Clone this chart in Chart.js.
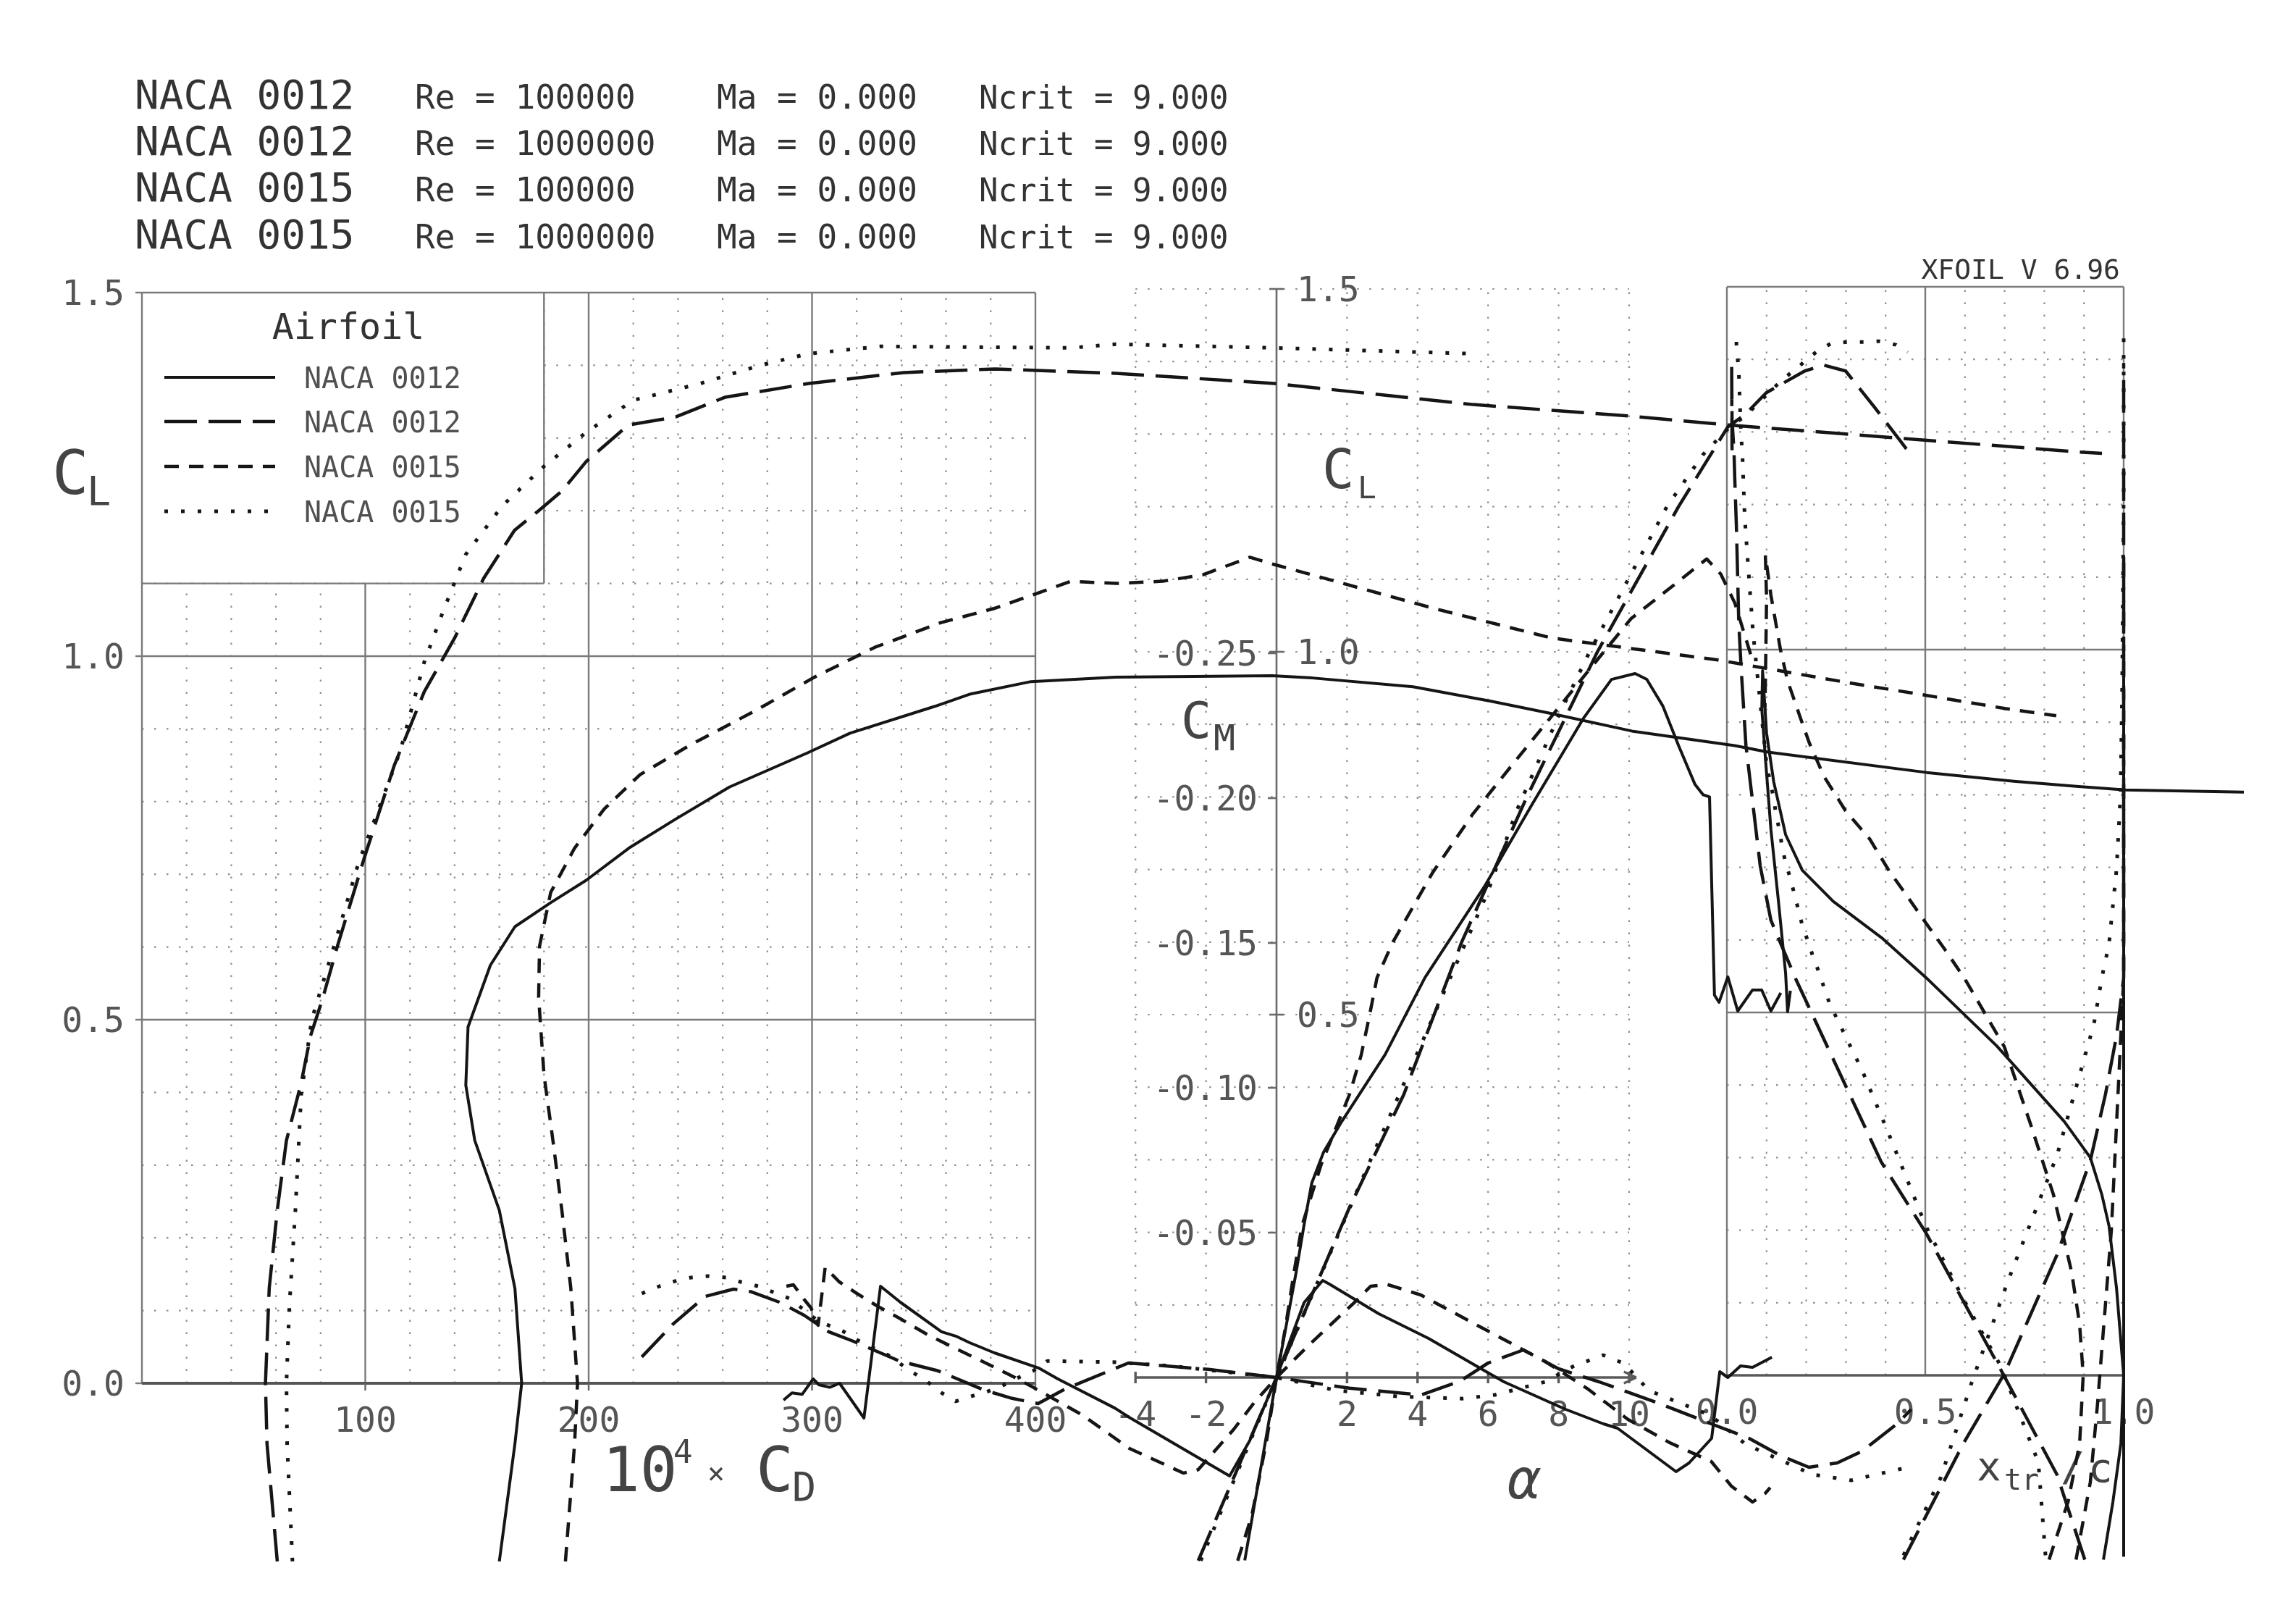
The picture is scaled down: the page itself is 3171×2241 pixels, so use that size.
<!DOCTYPE html>
<html>
<head>
<meta charset="utf-8">
<title>XFOIL polars - NACA 0012 / 0015</title>
<script src="https://cdn.jsdelivr.net/npm/chart.js@4.4.1/dist/chart.umd.min.js"></script>
<style>
  html, body { margin: 0; padding: 0; background: #fff; overflow: hidden; }
  canvas { display: block; }
</style>
</head>
<body>
<canvas id="polar" width="3171" height="2241"></canvas>
<script>
// header / legend text
const polarNames = ['NACA 0012', 'NACA 0012', 'NACA 0015', 'NACA 0015'];
const reynolds = ['100000', '1000000', '100000', '1000000'];
const machs = ['0.000', '0.000', '0.000', '0.000'];
const ncrits = ['9.000', '9.000', '9.000', '9.000'];

// tick labels
const cdTicks = [100, 200, 300, 400];
const clTicks = [0.0, 0.5, 1.0, 1.5];
const alphaTicks = [-4, -2, 2, 4, 6, 8, 10];
const cmTicks = [-0.05, -0.10, -0.15, -0.20, -0.25];
const xtrTicks = [0.0, 0.5, 1.0];

// ---- NACA 0012, Re 100000 (solid) ----
const dragA = [[160,-0.245],[167,-0.083],[170,0],[167,0.13],[160,0.238],[149,0.334],[145,0.41],[146,0.49],[156,0.575],[167,0.628],[183,0.661],[199,0.692],[218,0.736],[239,0.776],[263,0.82],[298,0.867],[317,0.894],[355,0.931],[371,0.948],[398,0.965],[436,0.971],[506,0.973],[524,0.97],[569,0.958],[604,0.938],[631,0.921],[667,0.897],[713,0.877],[728,0.868],[799,0.84],[838,0.828],[866,0.821],[888,0.816],[941,0.813]];
const liftA = [[-0.9,-0.252],[0,0],[0.55,0.143],[0.78,0.21],[1.0,0.268],[1.33,0.31],[1.84,0.352],[3.08,0.445],[4.21,0.551],[5.89,0.676],[7.25,0.79],[8.7,0.908],[9.5,0.962],[10.17,0.97],[10.5,0.962],[10.96,0.925],[11.4,0.871],[11.87,0.817],[12.1,0.803],[12.28,0.8],[12.42,0.527],[12.55,0.517],[12.8,0.552],[13.08,0.505],[13.5,0.534],[13.76,0.534],[14.02,0.505],[14.3,0.53]];
const momentA = [[-13.98,0.0078],[-13.74,0.0053],[-13.45,0.0058],[-13.14,0.0005],[-12.98,0.0025],[-12.67,0.0034],[-12.39,0.002],[-11.7,0.014],[-11.23,-0.0315],[-10.67,-0.026],[-9.5,-0.0158],[-9.1,-0.0143],[-8.7,-0.012],[-8.0,-0.0085],[-6.75,-0.0033],[-6.2,0.0005],[-4.58,0.0106],[-4.17,0.0138],[-1.33,0.034],[-0.76,0.0218],[0,0],[0.78,-0.0258],[1.31,-0.0335],[1.49,-0.0323],[2.9,-0.022],[4.31,-0.0135],[5.85,-0.0027],[6.45,0.0015],[8.2,0.011],[9.27,0.016],[9.67,0.0175],[11.33,0.0325],[11.7,0.0295],[12.34,0.021],[12.57,-0.002],[12.8,0],[13.16,-0.004],[13.5,-0.0035],[14.05,-0.007]];
const xtrTopA = [[1.0,-0.25],[1.0,0.0],[0.982,0.12],[0.963,0.206],[0.945,0.249],[0.916,0.3],[0.85,0.35],[0.68,0.454],[0.502,0.548],[0.39,0.603],[0.268,0.653],[0.19,0.696],[0.148,0.745],[0.118,0.818],[0.1,0.885],[0.09,0.971],[0.088,0.918],[0.097,0.851],[0.111,0.752],[0.13,0.653],[0.148,0.554],[0.153,0.501],[0.16,0.53]];
const xtrBotA = [[0.949,-0.254],[0.973,-0.174],[0.993,-0.094],[1.0,0.0],[1.0,0.973]];

// ---- NACA 0012, Re 1000000 (long dash) ----
const dragB = [[60.6,-0.245],[56,-0.083],[55.3,0],[57,0.131],[60.6,0.238],[64.7,0.334],[71.3,0.413],[75.5,0.478],[81,0.53],[87.5,0.601],[99.5,0.722],[113,0.85],[126.4,0.951],[140,1.025],[153,1.107],[166.8,1.173],[177.6,1.2],[188,1.227],[199,1.268],[217.8,1.318],[239,1.329],[261,1.356],[298.5,1.375],[341,1.39],[382,1.395],[436,1.389],[507,1.375],[596,1.346],[667,1.33],[710,1.318],[866,1.281],[877.5,1.279]];
const liftB = [[-2.22,-0.2525],[0,0],[2.07,0.2345],[3.61,0.39],[5.26,0.601],[7.1,0.8],[9.1,1.0],[11.4,1.2],[12.8,1.31],[13.29,1.327],[13.89,1.357],[14.98,1.387],[15.52,1.395],[16.14,1.387],[16.96,1.337],[17.7,1.29],[17.95,1.274]];
const momentB = [[-18.0,-0.0071],[-17.1,-0.0186],[-16.2,-0.028],[-15.4,-0.0305],[-14.9,-0.0296],[-14.1,-0.026],[-13.4,-0.0215],[-12.7,-0.0158],[-12.0,-0.0125],[-10.7,-0.0057],[-9.6,-0.0023],[-8.3,0.0043],[-7.5,0.0072],[-6.76,0.009],[-6.0,0.004],[-4.2,-0.005],[-1.93,-0.0028],[0,0],[2.07,0.0037],[4.1,0.006],[5.2,0.0013],[6.0,-0.005],[7.0,-0.0095],[8.0,-0.003],[9.15,0.0015],[10.8,0.0087],[12.33,0.016],[13.4,0.021],[14.3,0.027],[15.1,0.031],[15.9,0.0295],[16.6,0.0255],[17.6,0.016],[18.0,0.011]];
const xtrTopB = [[0.902,-0.254],[0.832,-0.137],[0.69,0.008],[0.502,0.196],[0.389,0.294],[0.172,0.548],[0.111,0.627],[0.084,0.702],[0.066,0.785],[0.048,0.868],[0.036,0.974],[0.03,1.036],[0.027,1.103],[0.024,1.169],[0.02,1.234],[0.018,1.272],[0.013,1.317],[0.012,1.393],[0.013,1.274]];
const xtrBotB = [[0.445,-0.254],[0.596,-0.094],[0.7,0.003],[0.832,0.166],[0.916,0.296],[0.954,0.387],[0.982,0.468],[1.0,0.548],[1.0,1.395]];

// ---- NACA 0015, Re 100000 (short dash) ----
const dragC = [[189.6,-0.245],[193.7,-0.083],[195,0],[192,0.131],[188,0.238],[184,0.334],[180,0.424],[177.6,0.531],[178,0.601],[183,0.675],[193.7,0.736],[207,0.79],[223,0.837],[245,0.877],[274,0.924],[301,0.971],[328,1.012],[357.5,1.046],[382,1.066],[416,1.103],[436,1.1],[457,1.103],[475,1.112],[496,1.136],[507,1.126],[578,1.066],[631,1.025],[705,0.995],[763,0.964],[799,0.946],[834,0.928],[857,0.918]];
const liftC = [[-1.1,-0.2525],[-0.7,-0.19],[-0.28,-0.087],[0,0],[0.25,0.068],[0.49,0.143],[0.72,0.209],[1.27,0.294],[1.72,0.348],[2.07,0.39],[2.4,0.444],[2.63,0.497],[2.85,0.551],[3.3,0.6],[4.43,0.696],[5.56,0.776],[6.68,0.844],[7.8,0.911],[8.93,0.979],[10.06,1.046],[11.4,1.097],[12.2,1.128],[12.6,1.107],[13.0,1.067],[13.5,0.988]];
const momentC = [[-13.9,-0.0315],[-13.7,-0.032],[-13.4,-0.027],[-13.2,-0.024],[-13.0,-0.018],[-12.8,-0.038],[-12.4,-0.033],[-11.9,-0.029],[-11.3,-0.0245],[-10.7,-0.0205],[-9.9,-0.0148],[-9.1,-0.01],[-8.3,-0.0053],[-7.5,-0.0005],[-6.9,0.0034],[-5.5,0.013],[-4.17,0.0245],[-2.64,0.033],[-2.22,0.0318],[-1.22,0.018],[-0.64,0.0088],[0,0],[0.9,-0.011],[2.2,-0.0258],[2.67,-0.0315],[3.14,-0.0321],[4.09,-0.0285],[5.85,-0.017],[7.62,-0.0055],[8.8,0.0037],[9.97,0.0145],[11.15,0.0225],[12.33,0.029],[12.9,0.0375],[13.5,0.043],[13.86,0.04],[14.0,0.038]];
const xtrTopC = [[0.812,-0.254],[0.86,-0.174],[0.889,-0.094],[0.898,0.0],[0.889,0.07],[0.869,0.142],[0.823,0.249],[0.766,0.345],[0.699,0.453],[0.6,0.546],[0.553,0.584],[0.498,0.626],[0.456,0.659],[0.409,0.695],[0.36,0.739],[0.299,0.778],[0.245,0.825],[0.208,0.871],[0.184,0.908],[0.153,0.957],[0.135,1.0],[0.111,1.075],[0.097,1.13],[0.1,1.07],[0.098,0.99],[0.096,0.92]];
const xtrBotC = [[0.88,-0.254],[0.916,-0.147],[0.934,-0.04],[0.969,0.2],[1.0,0.548],[1.0,1.128]];

// ---- NACA 0015, Re 1000000 (dotted) ----
const dragD = [[67.4,-0.245],[65,-0.083],[64.7,0],[66,0.105],[68.7,0.238],[71.3,0.397],[76,0.5],[86,0.601],[97,0.716],[107.6,0.803],[115.7,0.87],[126.4,0.992],[134.5,1.059],[145,1.14],[161.4,1.207],[180,1.261],[199,1.308],[220,1.352],[250,1.375],[276.8,1.4],[298.5,1.416],[330.6,1.426],[416,1.424],[436,1.429],[507,1.424],[595,1.416]];
const liftD = [[-2.15,-0.2525],[0,0],[2.4,0.27],[4.83,0.54],[6.0,0.67],[6.8,0.78],[8.03,0.915],[8.87,0.999],[11.07,1.2],[12.1,1.272],[12.77,1.306],[13.29,1.325],[14.3,1.373],[14.98,1.4],[15.3,1.413],[15.73,1.425],[16.2,1.427],[16.68,1.427],[17.08,1.428],[17.57,1.423],[17.9,1.413]];
const momentD = [[-18,-0.029],[-17.5,-0.0315],[-17.0,-0.0335],[-16.6,-0.0345],[-16.1,-0.035],[-15.6,-0.0345],[-15.2,-0.033],[-14.7,-0.0315],[-14.3,-0.0296],[-13.8,-0.0272],[-13.0,-0.0195],[-12.3,-0.016],[-11.9,-0.013],[-11.0,-0.0076],[-10.4,-0.0024],[-9.9,0.0015],[-9.5,0.0053],[-9.1,0.0082],[-8.6,0.0063],[-8.3,0.0053],[-7.86,0.0034],[-7.4,0.0005],[-6.9,-0.0023],[-6.5,-0.0057],[-4.64,-0.0053],[-3.0,-0.004],[0,0],[1.72,0.0045],[3.5,0.0066],[5.26,0.0073],[6.2,0.006],[7.62,0.0015],[8.44,-0.004],[9.27,-0.0077],[9.86,-0.0048],[10.56,0.0045],[12.3,0.013],[13.3,0.023],[14.2,0.028],[15.2,0.0335],[16.3,0.0355],[17.9,0.031]];
const xtrTopD = [[0.803,-0.248],[0.785,-0.12],[0.69,0.013],[0.597,0.104],[0.502,0.205],[0.407,0.334],[0.341,0.42],[0.259,0.512],[0.245,0.534],[0.233,0.554],[0.217,0.577],[0.205,0.597],[0.19,0.62],[0.181,0.64],[0.17,0.663],[0.16,0.685],[0.148,0.706],[0.139,0.729],[0.133,0.75],[0.124,0.772],[0.118,0.795],[0.109,0.818],[0.1,0.842],[0.066,1.023],[0.063,1.046],[0.057,1.089],[0.051,1.135],[0.045,1.182],[0.042,1.225],[0.039,1.271],[0.036,1.294],[0.033,1.337],[0.03,1.383],[0.024,1.421],[0.024,1.43]];
const xtrBotD = [[0.445,-0.248],[0.539,-0.141],[0.615,-0.013],[0.709,0.131],[0.832,0.303],[0.925,0.484],[0.945,0.548],[0.963,0.594],[0.982,0.697],[0.992,0.799],[0.996,0.937],[1.0,1.213],[1.0,1.43]];

const polars = [
  [dragA, liftA, momentA, xtrTopA, xtrBotA],
  [dragB, liftB, momentB, xtrTopB, xtrBotB],
  [dragC, liftC, momentC, xtrTopC, xtrBotC],
  [dragD, liftD, momentD, xtrTopD, xtrBotD]
];

const ink = '#151515';
const lineStyles = [
  { dash: [], width: 4 },
  { dash: [45, 16], width: 4.5 },
  { dash: [20, 14], width: 4.5 },
  { dash: [5, 18], width: 5 }
];
const axisPairs = [['xCD', 'yL'], ['xA', 'yM'], ['xA', 'yCM'], ['xX', 'yR'], ['xX', 'yR']];

const datasets = [];
polars.forEach((curves, i) => {
  curves.forEach((curve, k) => {
    datasets.push({
      data: curve.map(([x, y]) => ({ x, y })),
      xAxisID: axisPairs[k][0],
      yAxisID: axisPairs[k][1],
      showLine: true,
      pointRadius: 0,
      borderColor: ink,
      borderWidth: lineStyles[i].width,
      borderDash: lineStyles[i].dash,
      borderJoinStyle: 'round',
      tension: 0,
      fill: false,
      clip: false
    });
  });
});

const mono = '"DejaVu Sans Mono", "Liberation Mono", monospace';
const legendCD = 180, legendCL = 1.1;

function seg(ctx, x0, y0, x1, y1) {
  ctx.beginPath(); ctx.moveTo(x0, y0); ctx.lineTo(x1, y1); ctx.stroke();
}
function gridPen(ctx) {
  ctx.setLineDash([2.5, 14.5]); ctx.lineWidth = 2.2; ctx.strokeStyle = '#8e8e8e';
}
function framePen(ctx, w, c) {
  ctx.setLineDash([]); ctx.lineWidth = w || 2.4; ctx.strokeStyle = c || '#7a7a7a';
}

function drawLeftPanel(ctx, sx, sy) {
  const X = v => sx.getPixelForValue(v), Y = v => sy.getPixelForValue(v);
  gridPen(ctx);
  for (let cd = 20; cd < 400; cd += 20) {
    if (cd % 100 === 0) continue;
    seg(ctx, X(cd), Y(0), X(cd), Y(cd < legendCD ? legendCL : 1.5));
  }
  for (let k = 1; k <= 14; k++) {
    if (k === 5 || k === 10) continue;
    const cl = k / 10;
    seg(ctx, X(cl > legendCL ? legendCD : 0), Y(cl), X(400), Y(cl));
  }
  framePen(ctx);
  seg(ctx, X(0), Y(0), X(0), Y(1.5));
  seg(ctx, X(0), Y(1.5), X(400), Y(1.5));
  seg(ctx, X(400), Y(0), X(400), Y(1.5));
  [200, 300].forEach(v => seg(ctx, X(v), Y(0), X(v), Y(1.5)));
  seg(ctx, X(100), Y(0), X(100), Y(legendCL));
  [0.5, 1.0].forEach(v => seg(ctx, X(0), Y(v), X(400), Y(v)));
  seg(ctx, X(0), Y(legendCL), X(legendCD), Y(legendCL));
  seg(ctx, X(legendCD), Y(legendCL), X(legendCD), Y(1.5));
  clTicks.forEach(v => seg(ctx, X(0) - 9, Y(v), X(0), Y(v)));
  framePen(ctx, 4, '#555');
  seg(ctx, X(0), Y(0), X(400), Y(0));
  framePen(ctx, 2.4, '#666');
  cdTicks.forEach(v => seg(ctx, X(v), Y(0), X(v), Y(0) + 10));
}

function drawMiddlePanel(ctx, sx, sy, sm) {
  const X = v => sx.getPixelForValue(v), Y = v => sy.getPixelForValue(v), M = v => sm.getPixelForValue(v);
  gridPen(ctx);
  alphaTicks.forEach(a => seg(ctx, X(a), Y(0), X(a), Y(1.5)));
  for (let k = 1; k <= 15; k++) seg(ctx, X(-4), Y(k / 10), X(10), Y(k / 10));
  framePen(ctx, 2.6, '#6a6a6a');
  seg(ctx, X(0), Y(0), X(0), Y(1.5));
  [0.5, 1.0, 1.5].forEach(v => seg(ctx, X(0) - 10, Y(v), X(0) + 10, Y(v)));
  cmTicks.forEach(v => seg(ctx, X(0) - 12, M(v), X(0), M(v)));
  framePen(ctx, 3.4, '#5a5a5a');
  seg(ctx, X(-4), Y(0), X(10.2), Y(0));
  alphaTicks.forEach(a => seg(ctx, X(a), Y(0) - 8, X(a), Y(0) + 8));
  const ax = X(10.2), ay = Y(0);
  seg(ctx, ax, ay, ax - 17, ay - 8);
  seg(ctx, ax, ay, ax - 17, ay + 8);
}

function drawRightPanel(ctx, sx, sy) {
  const X = v => sx.getPixelForValue(v), Y = v => sy.getPixelForValue(v);
  gridPen(ctx);
  for (let k = 1; k <= 9; k++) {
    if (k === 5) continue;
    seg(ctx, X(k / 10), Y(0), X(k / 10), Y(1.5));
  }
  for (let k = 1; k <= 14; k++) {
    if (k === 5 || k === 10) continue;
    seg(ctx, X(0), Y(k / 10), X(1), Y(k / 10));
  }
  framePen(ctx);
  seg(ctx, X(0), Y(0), X(0), Y(1.5));
  seg(ctx, X(1), Y(0), X(1), Y(1.5));
  seg(ctx, X(0), Y(1.5), X(1), Y(1.5));
  seg(ctx, X(0.5), Y(0), X(0.5), Y(1.5));
  [0.5, 1.0].forEach(v => seg(ctx, X(0), Y(v), X(1), Y(v)));
  framePen(ctx, 3.4, '#5a5a5a');
  seg(ctx, X(0), Y(0), X(1), Y(0));
}

function drawTexts(ctx, s) {
  ctx.textBaseline = 'alphabetic';
  // run header
  const rows = [150, 214, 278, 343];
  ctx.fillStyle = '#333';
  polarNames.forEach((name, i) => {
    ctx.textAlign = 'left';
    ctx.font = `56px ${mono}`;
    ctx.fillText(name, 186, rows[i]);
    ctx.font = `46px ${mono}`;
    ctx.fillText('Re = ' + reynolds[i], 573, rows[i]);
    ctx.fillText('Ma = ' + machs[i], 990, rows[i]);
    ctx.font = `44px ${mono}`;
    ctx.fillText('Ncrit = ' + ncrits[i], 1352, rows[i]);
  });
  ctx.font = `38px ${mono}`;
  ctx.textAlign = 'right';
  ctx.fillText('XFOIL V 6.96', 2928, 385);

  // tick labels
  ctx.fillStyle = '#555';
  ctx.font = `48px ${mono}`;
  const xCD = s.xCD, yL = s.yL, xA = s.xA, yM = s.yM, yCM = s.yCM, xX = s.xX;
  ctx.textAlign = 'right';
  clTicks.forEach(v => ctx.fillText(v.toFixed(1), 172, yL.getPixelForValue(v) + 17));
  ctx.textAlign = 'center';
  cdTicks.forEach(v => ctx.fillText(String(v), xCD.getPixelForValue(v), 1977));
  alphaTicks.forEach(a => ctx.fillText(String(a), xA.getPixelForValue(a), 1969));
  xtrTicks.forEach(v => ctx.fillText(v.toFixed(1), xX.getPixelForValue(v), 1966));
  ctx.textAlign = 'left';
  [0.5, 1.0, 1.5].forEach(v => ctx.fillText(v.toFixed(1), xA.getPixelForValue(0) + 28, yM.getPixelForValue(v) + 17));
  ctx.textAlign = 'right';
  cmTicks.forEach(v => ctx.fillText(v.toFixed(2), xA.getPixelForValue(0) - 26, yCM.getPixelForValue(v) + 17));

  // axis titles
  ctx.fillStyle = '#444';
  ctx.textAlign = 'left';
  ctx.font = `84px ${mono}`; ctx.fillText('C', 72, 682);
  ctx.font = `55px ${mono}`; ctx.fillText('L', 120, 697);
  ctx.font = `74px ${mono}`; ctx.fillText('C', 1826, 674);
  ctx.font = `43px ${mono}`; ctx.fillText('L', 1875, 688);
  ctx.font = `70px ${mono}`; ctx.fillText('C', 1631, 1019);
  ctx.font = `50px ${mono}`; ctx.fillText('M', 1676, 1036);
  ctx.font = `86px ${mono}`; ctx.fillText('10', 832, 2059);
  ctx.font = `44px ${mono}`; ctx.fillText('4', 930, 2020);
  ctx.font = `40px ${mono}`; ctx.fillText('\u00d7', 977, 2048);
  ctx.font = `86px ${mono}`; ctx.fillText('C', 1044, 2059);
  ctx.font = `55px ${mono}`; ctx.fillText('D', 1094, 2072);
  ctx.font = `italic 76px ${mono}`; ctx.fillText('\u03b1', 2082, 2069);
  ctx.font = `56px ${mono}`; ctx.fillText('x', 2730, 2044);
  ctx.font = `40px ${mono}`; ctx.fillText('tr', 2768, 2057);
  ctx.font = `56px ${mono}`; ctx.fillText('/', 2846, 2044);
  ctx.fillText('c', 2884, 2046);

  // legend
  ctx.fillStyle = '#333';
  ctx.font = `50px ${mono}`;
  ctx.textAlign = 'center';
  ctx.fillText('Airfoil', 481, 468);
  const legendRows = [521, 582, 644, 706];
  ctx.font = `40px ${mono}`;
  ctx.textAlign = 'left';
  polarNames.forEach((name, i) => {
    ctx.setLineDash(lineStyles[i].dash);
    ctx.lineWidth = lineStyles[i].width;
    ctx.strokeStyle = ink;
    seg(ctx, 227, legendRows[i], 380, legendRows[i]);
    ctx.fillStyle = '#505050';
    ctx.fillText(name, 420, legendRows[i] + 15);
  });
  ctx.setLineDash([]);
}

const paper = {
  id: 'paper',
  beforeDraw(chart) {
    const { ctx, scales: s } = chart;
    ctx.save();
    ctx.fillStyle = '#fff';
    ctx.fillRect(0, 0, chart.width, chart.height);
    drawLeftPanel(ctx, s.xCD, s.yL);
    drawMiddlePanel(ctx, s.xA, s.yM, s.yCM);
    drawRightPanel(ctx, s.xX, s.yR);
    drawTexts(ctx, s);
    ctx.restore();
  }
};

const hidden = { type: 'linear', display: false, bounds: 'data', grace: 0 };

new Chart(document.getElementById('polar').getContext('2d'), {
  type: 'scatter',
  data: { datasets },
  options: {
    responsive: false,
    devicePixelRatio: 1,
    animation: false,
    events: [],
    layout: { padding: 0 },
    plugins: { legend: { display: false }, tooltip: { enabled: false } },
    scales: {
      x: { ...hidden, axis: 'x', position: 'bottom' },
      y: { ...hidden, axis: 'y', position: 'left' },
      xCD: { ...hidden, axis: 'x', position: 'bottom', min: -63.533, max: 964.34 },
      yL: { ...hidden, axis: 'y', position: 'left', min: -0.32968, max: 1.90239 },
      xA: { ...hidden, axis: 'x', position: 'bottom', min: -36.201, max: 28.912 },
      yM: { ...hidden, axis: 'y', position: 'left', min: -0.33832, max: 1.8982 },
      yCM: { ...hidden, axis: 'y', position: 'left', reverse: true, min: -0.4755, max: 0.08475 },
      xX: { ...hidden, axis: 'x', position: 'bottom', min: -4.35219, max: 1.43431 },
      yR: { ...hidden, axis: 'y', position: 'left', min: -0.34132, max: 1.89521 }
    }
  },
  plugins: [paper]
});
</script>
</body>
</html>
